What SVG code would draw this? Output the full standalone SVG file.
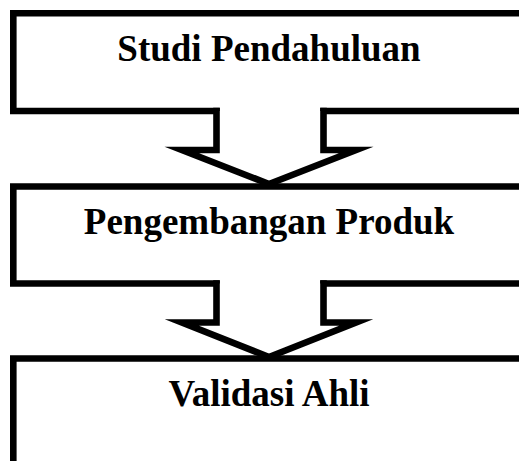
<svg xmlns="http://www.w3.org/2000/svg" width="519" height="461" viewBox="0 0 519 461">
<style>
.box{fill:none;stroke:#000;stroke-width:6.6;stroke-linecap:square;stroke-linejoin:miter;}
.arrow{fill:#fff;stroke:#000;stroke-width:6.6;stroke-linecap:square;stroke-linejoin:miter;stroke-miterlimit:10;}
.lbl{font-family:"Liberation Serif","Times New Roman",serif;font-weight:bold;font-size:37px;fill:#000;text-anchor:middle;}
</style>
<rect width="519" height="461" fill="#fff"/>
<g id="node-studi">
<path class="box" d="M540,13.3 H13.3 V111 H216.5 M323.5,111 H540"/>
<text class="lbl" x="269" y="61">Studi Pendahuluan</text>
</g>
<g id="node-pengembangan">
<path class="box" d="M540,186.5 H13.3 V283.5 H216.5 M323.5,283.5 H540"/>
<text class="lbl" x="269" y="234">Pengembangan Produk</text>
</g>
<g id="node-validasi">
<path class="box" d="M540,358.5 H13.3 V480"/>
<text class="lbl" x="269" y="406">Validasi Ahli</text>
</g>
<g id="connectors">
<path class="arrow" d="M216.5,111 V150 H182 L269,184 L356,150 H323.5 V111"/>
<path class="arrow" d="M216.5,283.5 V322.5 H182 L269,357 L356,322.5 H323.5 V283.5"/>
</g>
</svg>
